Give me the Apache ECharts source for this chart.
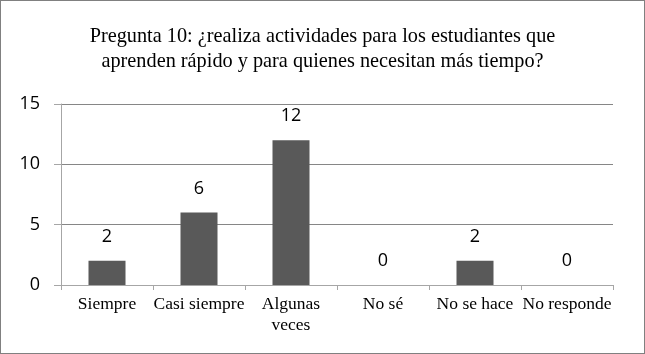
<!DOCTYPE html>
<html><head><meta charset="utf-8">
<script src="https://cdn.jsdelivr.net/npm/echarts@6/dist/echarts.min.js"></script>
<style>html,body{margin:0;padding:0;background:#fff}#c{width:645px;height:354px;box-sizing:border-box;border:1px solid #808080}</style>
</head><body><div id="c"></div>
<script>
const titleText = 'Pregunta 10: ¿realiza actividades para los estudiantes que\naprenden rápido y para quienes necesitan más tiempo?';
const categories = ['Siempre', 'Casi siempre', 'Algunas\nveces', 'No sé', 'No se hace', 'No responde'];
const values = [2, 6, 12, 0, 2, 0];
const yTicks = {min: 0, max: 15, interval: 5};

const chart = echarts.init(document.getElementById('c'), null, {renderer: 'canvas'});
chart.setOption({
  animation: false,
  title: {
    text: titleText, left: 'center', top: 18,
    textStyle: {fontFamily: 'Liberation Serif', fontSize: 20.3, fontWeight: 'normal', color: '#000', lineHeight: 25}
  },
  grid: {left: 60, right: 31, top: 103, bottom: 68},
  xAxis: {
    type: 'category', data: categories,
    axisLine: {lineStyle: {color: '#a6a6a6', width: 1}},
    axisTick: {show: true, length: 5, lineStyle: {color: '#a6a6a6'}},
    axisLabel: {fontFamily: 'Liberation Serif', fontSize: 17.5, color: '#000', margin: 9, lineHeight: 21, interval: 0}
  },
  yAxis: {
    type: 'value', min: yTicks.min, max: yTicks.max, interval: yTicks.interval,
    axisLine: {show: true, lineStyle: {color: '#a6a6a6'}},
    axisTick: {show: true, length: 7, lineStyle: {color: '#a6a6a6'}},
    splitLine: {lineStyle: {color: '#868686'}},
    axisLabel: {fontFamily: 'Open Sans', fontSize: 18, color: '#000', margin: 21}
  },
  series: [{
    type: 'bar', data: values, barWidth: 37,
    itemStyle: {color: '#595959'},
    label: {show: true, position: 'top', distance: 15, fontFamily: 'Open Sans', fontSize: 18, color: '#000'}
  }]
});
</script></body></html>
